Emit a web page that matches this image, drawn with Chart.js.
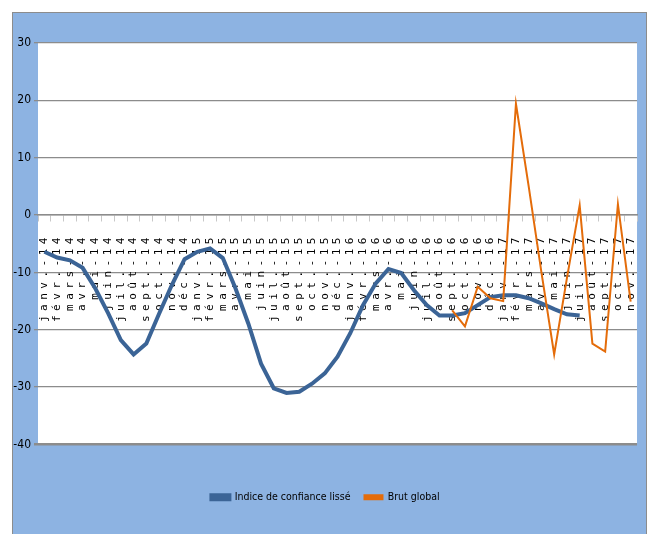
<!DOCTYPE html>
<html>
<head>
<meta charset="utf-8">
<script src="https://cdn.jsdelivr.net/npm/chart.js@4/dist/chart.umd.min.js"></script>
<style>
  html, body { margin: 0; padding: 0; background: #fff; }
  #wrap { width: 652px; height: 534px; }
</style>
</head>
<body>
<div id="wrap"><canvas id="myChart"></canvas></div>
<script>
// categories (mois janv.-14 -> nov.-17)
const mois = [
  'janv.-14', 'févr.-14', 'mars-14', 'avr.-14', 'mai-14', 'juin-14', 'juil.-14', 'août-14', 'sept.-14', 'oct.-14', 'nov.-14', 'déc.-14',
  'janv.-15', 'févr.-15', 'mars-15', 'avr.-15', 'mai-15', 'juin-15', 'juil.-15', 'août-15', 'sept.-15', 'oct.-15', 'nov.-15', 'déc.-15',
  'janv.-16', 'févr.-16', 'mars-16', 'avr.-16', 'mai-16', 'juin-16', 'juil.-16', 'août-16', 'sept.-16', 'oct.-16', 'nov.-16', 'déc.-16',
  'janv.-17', 'févr.-17', 'mars-17', 'avr.-17', 'mai-17', 'juin-17', 'juil.-17', 'août-17', 'sept.-17', 'oct.-17', 'nov.-17'
];

// Indice de confiance lissé (janv.-14 -> juil.-17)
const indiceLisse = [
  -6.4, -7.4, -7.9, -9.2, -12.8, -17.1, -21.8, -24.3, -22.4, -17.2, -12.2, -7.7,
  -6.4, -5.8, -7.5, -12.8, -18.9, -25.9, -30.2, -31.0, -30.8, -29.4, -27.6, -24.7,
  -20.6, -15.7, -11.9, -9.4, -10.1, -13.1, -15.7, -17.5, -17.5, -17.1, -15.7, -14.3,
  -14.0, -14.0, -14.5, -15.4, -16.4, -17.3, -17.5,
  null, null, null, null
];

// Brut global (sept.-16 -> nov.-17)
const brutGlobal = [
  null, null, null, null, null, null, null, null, null, null, null, null,
  null, null, null, null, null, null, null, null, null, null, null, null,
  null, null, null, null, null, null, null, null,
  -16.6, -19.4, -12.5, -14.5,
  -15.0, 19.4, 5.0, -10.0, -24.3, -11.0, 1.7, -22.4, -23.8, 1.9, -15.1
];

const yTicks = [30, 20, 10, 0, -10, -20, -30, -40];

const narrow = "'Liberation Sans Narrow', 'DejaVu Sans Condensed', sans-serif";

// axe des categories avec espacement des lettres (comme dans Excel)
class SpacedCategory extends Chart.CategoryScale {
  drawLabels(chartArea) {
    const ctx = this.ctx;
    ctx.save();
    ctx.letterSpacing = '4.5px';
    ctx.translate(0, 4);
    super.drawLabels(chartArea);
    ctx.restore();
    ctx.letterSpacing = '0px';
  }
}
SpacedCategory.id = 'spacedCategory';
SpacedCategory.defaults = Chart.CategoryScale.defaults;
Chart.register(SpacedCategory);

const fond = {
  id: 'fond',
  beforeDraw(chart) {
    const ctx = chart.ctx;
    const a = chart.chartArea;
    ctx.save();
    ctx.fillStyle = '#ffffff';
    ctx.fillRect(0, 0, chart.width, chart.height);
    ctx.fillStyle = '#8db3e2';
    ctx.fillRect(13, 13, 633, 521);
    ctx.strokeStyle = '#8c8c8c';
    ctx.lineWidth = 1;
    ctx.strokeRect(12.5, 12.5, 634, 522);
    ctx.fillStyle = '#ffffff';
    ctx.fillRect(a.left, a.top, a.right - a.left, a.bottom - a.top);
    ctx.restore();
  }
};

const ctx = document.getElementById('myChart').getContext('2d');
new Chart(ctx, {
  type: 'line',
  data: {
    labels: mois,
    datasets: [
      {
        label: 'Indice de confiance lissé',
        data: indiceLisse,
        borderColor: '#3b6496',
        backgroundColor: '#3b6496',
        borderWidth: 4,
        pointRadius: 0,
        tension: 0,
        order: 1
      },
      {
        label: 'Brut global',
        data: brutGlobal,
        borderColor: '#e46c0a',
        backgroundColor: '#e46c0a',
        borderWidth: 2,
        pointRadius: 0,
        tension: 0,
        order: 0
      }
    ]
  },
  options: {
    responsive: true,
    maintainAspectRatio: false,
    animation: false,
    layout: { padding: { left: 13, right: 14, top: 43, bottom: 21.5 } },
    plugins: {
      tooltip: { enabled: false },
      // titre vide : sert d'espace entre la zone de tracé et la légende
      title: {
        display: true,
        position: 'bottom',
        text: '',
        weight: 500,
        padding: 10.75,
        font: { size: 10, lineHeight: 1.2 }
      },
      legend: {
        position: 'bottom',
        labels: {
          color: '#000',
          boxWidth: 18,
          boxHeight: 4,
          padding: 14,
          font: { family: narrow, size: 10.5 },
          sort: (a, b) => a.datasetIndex - b.datasetIndex
        }
      }
    },
    scales: {
      x: {
        type: 'spacedCategory',
        position: { y: 0 },
        offset: true,
        grid: {
          offset: true,
          drawOnChartArea: false,
          drawTicks: true,
          tickLength: 6,
          color: '#c8c8c8'
        },
        border: { color: '#8c8c8c', width: 1.5 },
        ticks: {
          autoSkip: false,
          minRotation: 90,
          maxRotation: 90,
          padding: 8,
          color: '#000',
          font: { family: "'DejaVu Sans Mono', monospace", size: 11 }
        }
      },
      y: {
        min: -40,
        max: 30,
        afterFit(scale) { scale.width = 25; },
        afterBuildTicks(scale) { scale.ticks = yTicks.map(v => ({ value: v })); },
        border: { display: false },
        grid: {
          color: '#8c8c8c',
          lineWidth: (c) => (c.tick && c.tick.value === -40 ? 2.5 : 1.3),
          drawTicks: true,
          tickLength: 4
        },
        ticks: {
          color: '#000',
          padding: 3,
          font: { family: narrow, size: 12 }
        }
      }
    }
  },
  plugins: [fond]
});
</script>
</body>
</html>
